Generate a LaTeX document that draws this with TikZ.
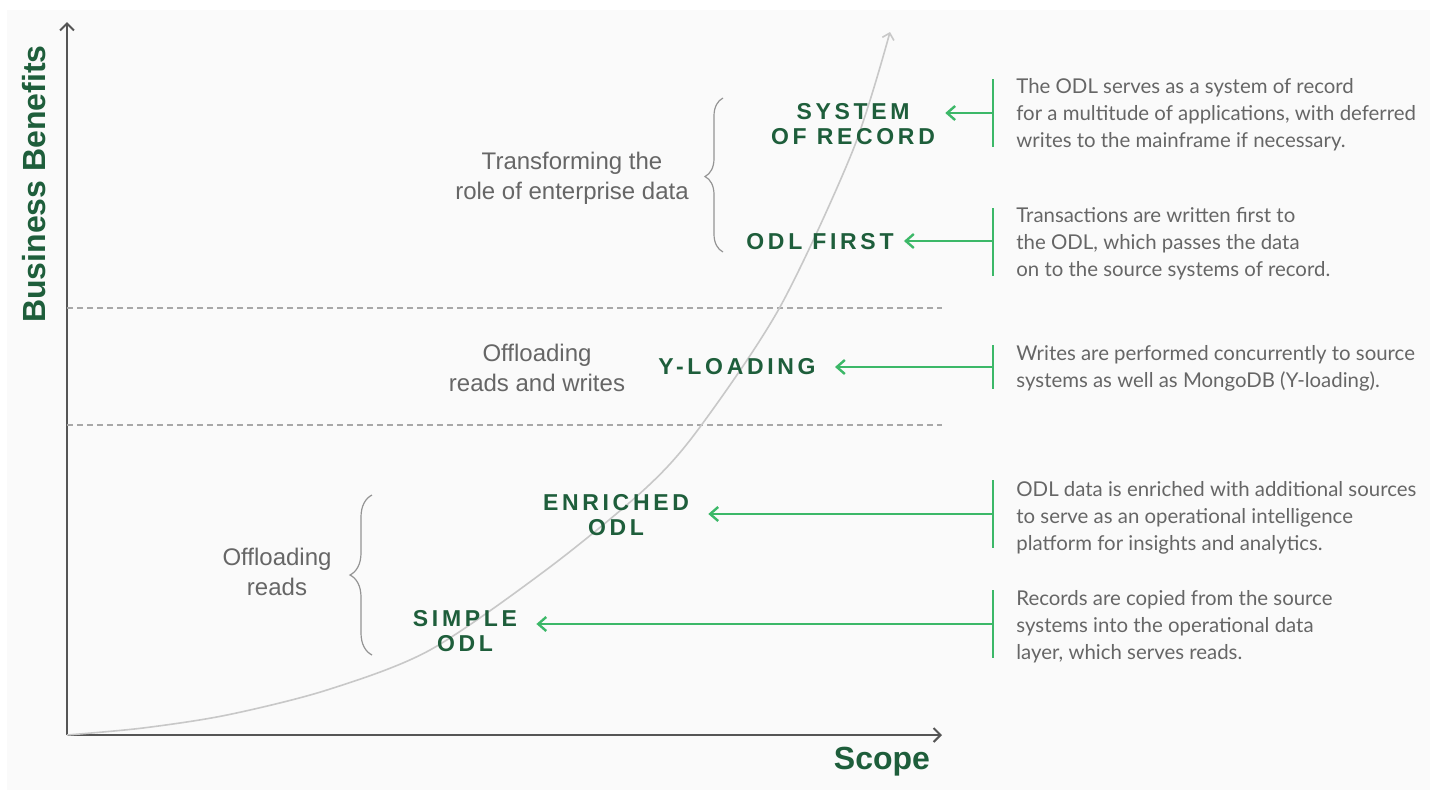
\documentclass[tikz,border=0pt]{standalone}
\usepackage{fontspec}
\setmainfont{Liberation Sans}
\newfontfamily\descfont{Lato}
\newfontfamily\headfont[LetterSpace=16]{Liberation Sans}
\usetikzlibrary{arrows.meta,decorations.pathreplacing}
\definecolor{dkgreen}{HTML}{1E5E3B}
\definecolor{ltgreen}{HTML}{3CB868}
\definecolor{txtgrey}{HTML}{666666}
\definecolor{axisgrey}{HTML}{555555}
\definecolor{bggrey}{HTML}{FAFAFA}
\definecolor{curvegrey}{HTML}{C8C8C8}
\definecolor{dashgrey}{HTML}{A8A8A8}
\tikzset{
  stage/.style={font=\headfont\bfseries\fontsize{11.5pt}{12.5pt}\selectfont, text=dkgreen, align=center, inner sep=0pt},
  desc/.style={font=\descfont\fontsize{10.2pt}{13.5pt}\selectfont, text=txtgrey, align=left, anchor=west, inner sep=0pt},
  phase/.style={font=\fontsize{12pt}{15pt}\selectfont, text=txtgrey, align=center, inner sep=0pt},
  axislabel/.style={font=\bfseries\fontsize{16pt}{18pt}\selectfont, text=dkgreen, inner sep=0pt},
  axisline/.style={axisgrey, line width=1pt, -{Straight Barb[length=3.5pt,width=7pt]}},
  pointer/.style={ltgreen, line width=1.2pt, -{Straight Barb[length=4pt,width=7pt]}, shorten >=5pt},
  farpointer/.style={pointer, shorten >=9.5pt},
  barline/.style={ltgreen, line width=1.2pt},
  sep/.style={dashgrey, line width=0.6pt, dash pattern=on 3pt off 2pt},
  curveline/.style={curvegrey, line width=0.8pt, -{Straight Barb[length=3pt,width=6pt]}},
  bracket/.style={txtgrey!70, line width=0.6pt, decorate},
}
\begin{document}
\begin{tikzpicture}[x=0.5pt,y=-0.5pt]
\useasboundingbox (0,0) rectangle (1437,793);
\fill[white] (0,0) rectangle (1437,793);
\fill[bggrey] (7,10) rectangle (1430,790);

% axes
\coordinate (O) at (67,735);
\coordinate (ytop) at (67,22);
\coordinate (xend) at (942,735);
\draw[axisline] (O) -- (ytop);
\draw[axisline] (O) -- (xend);
\node[axislabel, rotate=90] (yl) at (34,184) {Business Benefits};
\node[axislabel] (xl) at (882,762) {Scope};

% dashed separators
\coordinate (d1a) at (67,308); \coordinate (d1b) at (942,308);
\coordinate (d2a) at (67,425); \coordinate (d2b) at (942,425);
\draw[sep] (d1a) -- (d1b);
\draw[sep] (d2a) -- (d2b);

% growth curve
\draw[curveline] plot[smooth, tension=0.5] coordinates {(67,735) (143,728) (227,715) (327,690) (430,650) (550,567) (647,487) (700,427) (780,307) (853,150) (890,32)};

% stage labels
\node[stage] (sor) at (853,124) {SYSTEM\\OF RECORD};
\node[stage] (first) at (820,242) {ODL FIRST};
\node[stage] (yload) at (737,367) {Y-LOADING};
\node[stage] (enr) at (616,515) {ENRICHED\\ODL};
\node[stage] (simple) at (465,631) {SIMPLE\\ODL};

% phase labels
\node[phase] (ph1) at (572,178) {Transforming the\\role of enterprise data};
\node[phase] (ph2) at (537,368) {Offloading\\reads and writes};
\node[phase] (ph3) at (277,572) {Offloading\\reads};

% braces
\coordinate (b1s) at (723,252); \coordinate (b1e) at (723,98);
\coordinate (b2s) at (372,655); \coordinate (b2e) at (372,495);
\draw[bracket, decoration={brace, amplitude=9pt, aspect=0.49}] (b1s) -- (b1e);
\draw[bracket, decoration={brace, amplitude=11pt, aspect=0.5}] (b2s) -- (b2e);

% green bars and pointers
\coordinate (m1) at (993,113); \coordinate (t1) at (993,79); \coordinate (u1) at (993,147);
\coordinate (m2) at (993,241); \coordinate (t2) at (993,208); \coordinate (u2) at (993,276);
\coordinate (m3) at (993,367); \coordinate (t3) at (993,345); \coordinate (u3) at (993,389);
\coordinate (m4) at (993,514); \coordinate (t4) at (993,480); \coordinate (u4) at (993,548);
\coordinate (m5) at (993,624); \coordinate (t5) at (993,590); \coordinate (u5) at (993,658);
\foreach \i in {1,...,5} {\draw[barline] (t\i) -- (u\i);}
\draw[pointer] (m1) -- (sor.east |- m1);
\draw[pointer] (m2) -- (first.east |- m2);
\draw[farpointer] (m3) -- (yload.east |- m3);
\draw[farpointer] (m4) -- (enr.east |- m4);
\draw[farpointer] (m5) -- (simple.east |- m5);

% descriptions
\node[desc] (de1) at (1016,115) {The ODL serves as a system of record\\for a multitude of applications, with deferred\\writes to the mainframe if necessary.};
\node[desc] (de2) at (1016,244) {Transactions are written first to\\the ODL, which passes the data\\on to the source systems of record.};
\node[desc] (de3) at (1016,368) {Writes are performed concurrently to source\\systems as well as MongoDB (Y-loading).};
\node[desc] (de4) at (1016,518) {ODL data is enriched with additional sources\\to serve as an operational intelligence\\platform for insights and analytics.};
\node[desc] (de5) at (1016,627) {Records are copied from the source\\systems into the operational data\\layer, which serves reads.};
\end{tikzpicture}
\end{document}
